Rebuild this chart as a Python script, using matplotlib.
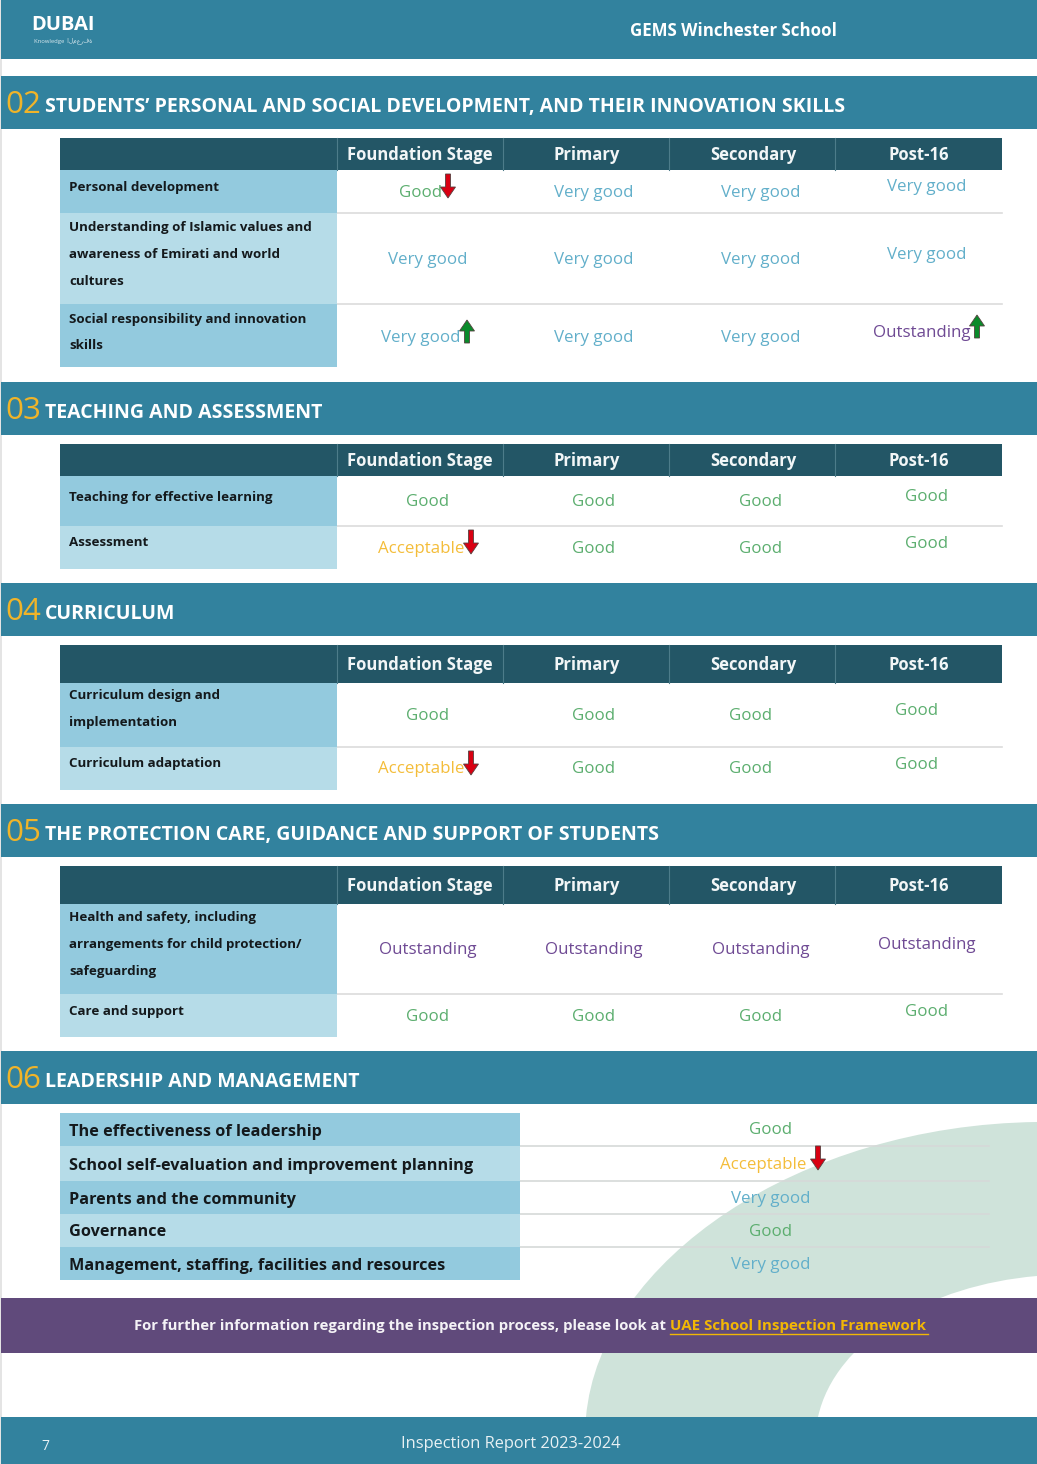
import matplotlib
matplotlib.use("Agg")
import matplotlib.pyplot as plt
import matplotlib.patches as mpatches
from matplotlib.path import Path

plt.rcParams["font.family"] = ["Open Sans", "DejaVu Sans"]

# ── Data ─────────────────────────────────────────────────────────────────────
SCHOOL = "GEMS Winchester School"
PHASES = ["Foundation Stage", "Primary", "Secondary", "Post-16"]

NUMS = ["02", "03", "04", "05"]
TITLES = [
    "STUDENTS\u2019 PERSONAL AND SOCIAL DEVELOPMENT, AND THEIR INNOVATION SKILLS",
    "TEACHING AND ASSESSMENT",
    "CURRICULUM",
    "THE PROTECTION CARE, GUIDANCE AND SUPPORT OF STUDENTS",
]

LABELS_02 = ["Personal development",
             "Understanding of Islamic values and\nawareness of Emirati and world\ncultures",
             "Social responsibility and innovation\nskills"]
RATINGS_02 = [["Good", "Very good", "Very good", "Very good"],
              ["Very good", "Very good", "Very good", "Very good"],
              ["Very good", "Very good", "Very good", "Outstanding"]]
TREND_02 = [["down", "", "", ""], ["", "", "", ""], ["up", "", "", "up"]]

LABELS_03 = ["Teaching for effective learning", "Assessment"]
RATINGS_03 = [["Good", "Good", "Good", "Good"],
              ["Acceptable", "Good", "Good", "Good"]]
TREND_03 = [["", "", "", ""], ["down", "", "", ""]]

LABELS_04 = ["Curriculum design and\nimplementation", "Curriculum adaptation"]
RATINGS_04 = [["Good", "Good", "Good", "Good"],
              ["Acceptable", "Good", "Good", "Good"]]
TREND_04 = [["", "", "", ""], ["down", "", "", ""]]

LABELS_05 = ["Health and safety, including\narrangements for child protection/\nsafeguarding",
             "Care and support"]
RATINGS_05 = [["Outstanding", "Outstanding", "Outstanding", "Outstanding"],
              ["Good", "Good", "Good", "Good"]]
TREND_05 = [["", "", "", ""], ["", "", "", ""]]

TITLE_06 = "LEADERSHIP AND MANAGEMENT"
LABELS_06 = ["The effectiveness of leadership",
             "School self-evaluation and improvement planning",
             "Parents and the community",
             "Governance",
             "Management, staffing, facilities and resources"]
RATINGS_06 = ["Good", "Acceptable", "Very good", "Good", "Very good"]
TREND_06 = ["", "down", "", "", ""]

# ── Colors ───────────────────────────────────────────────────────────────────
TEAL = "#32829e"
DARK = "#235666"
ROW_A = "#93cade"
ROW_B = "#b6dce8"
GOLD = "#f0b429"
RATING_COLORS = {"Good": "#5cae6f", "Very good": "#62afca",
                 "Acceptable": "#f4bd3a", "Outstanding": "#6f4a94"}

# ── Layout (pixels) ──────────────────────────────────────────────────────────
COL_EDGES = [337, 503, 669, 835, 1002]
COL_TEXT_X = [428, 594, 761, 927]
LAYOUT = [
    dict(band=76, head=(138, 170), rows=[170, 213, 304, 367],
         text_y=[[192, 192, 192, 186], [259, 259, 259, 254], [337, 337, 337, 332]],
         label_y=[186, 227, 318], arrows={(0, 0): (448, 174, 198), (2, 0): (467, 320, 343), (2, 3): (977, 315, 338)}),
    dict(band=382, head=(444, 476), rows=[476, 526, 569],
         text_y=[[501, 501, 501, 496], [548, 548, 548, 543]],
         label_y=[496, 542], arrows={(1, 0): (471, 530, 554)}),
    dict(band=583, head=(645, 683), rows=[683, 747, 790],
         text_y=[[715, 715, 715, 710], [768, 768, 768, 764]],
         label_y=[695, 763], arrows={(1, 0): (471, 751, 775)}, shift=[0, 0, -10, -10]),
    dict(band=804, head=(866, 904), rows=[904, 994, 1037],
         text_y=[[949, 949, 949, 944], [1016, 1016, 1016, 1011]],
         label_y=[917, 1010], arrows={}),
]
BOTTOM_ROWS = [1113, 1146, 1181, 1214, 1247, 1280]
BOTTOM_TEXT_Y = [1129, 1164, 1198, 1231, 1264]

fig = plt.figure(figsize=(10.37, 14.64), dpi=100)
ax = fig.add_axes([0, 0, 1, 1])
ax.set_xlim(0, 1037)
ax.set_ylim(1464, 0)
ax.axis("off")


def rect(x0, y0, x1, y1, color, z=2):
    ax.add_patch(mpatches.Rectangle((x0, y0), x1 - x0, y1 - y0, color=color, lw=0, zorder=z))


def arrow(x, y0, y1, direction):
    color = "#d90012" if direction == "down" else "#0a8a2a"
    if direction == "down":
        start, dy = y0, y1 - y0
    else:
        start, dy = y1, y0 - y1
    ax.add_patch(mpatches.FancyArrow(x, start, 0, dy, width=5, head_width=15, head_length=11,
                                     length_includes_head=True, color=color, ec="#55403f",
                                     lw=0.6, zorder=6))


def draw_band(y, num, title):
    rect(1, y, 1037, y + 52.5, TEAL)
    ax.text(5, y + 29, num, color=GOLD, fontsize=22.5, va="center", ha="left", zorder=5)
    ax.text(45, y + 31, title, color="white", fontsize=14.05, fontweight="bold", va="center", ha="left", zorder=5)


def draw_section(num, title, labels, ratings, trends, lay):
    draw_band(lay["band"], num, title)
    top, bot = lay["head"]
    rect(60, top, 1002, bot, DARK)
    for x in COL_EDGES[:-1]:
        ax.plot([x, x], [top, bot], color="#4d7c8a", lw=0.8, zorder=3)
    centers = [420, 587, 753, 919]
    for x, name in zip(centers, PHASES):
        ax.text(x, (top + bot) / 2 + 1, name, color="#f2f6f7", fontsize=12, fontweight="bold",
                ha="center", va="center", zorder=5)
    shift = lay.get("shift", [0, 0, 0, 0])
    rows = lay["rows"]
    for i, label in enumerate(labels):
        rect(60, rows[i], 337, rows[i + 1], ROW_A if i % 2 == 0 else ROW_B)
        if i < len(labels) - 1:
            ax.plot([337, 1002], [rows[i + 1], rows[i + 1]], color="#dcdcdc", lw=1.2, zorder=1)
        for n, line in enumerate(label.split("\n")):
            ax.text(69, lay["label_y"][i] + 1 + n * 26.6, line, color="#14191c", fontsize=9.6,
                    fontweight="bold", ha="left", va="center", zorder=5)
        for j, val in enumerate(ratings[i]):
            x = COL_TEXT_X[j] + shift[j]
            if trends[i][j]:
                x -= 7 if j == 0 else 5
                ax_arrow = lay["arrows"][(i, j)]
                arrow(ax_arrow[0], ax_arrow[1], ax_arrow[2], trends[i][j])
            ax.text(x, lay["text_y"][i][j] + 1, val, color=RATING_COLORS[val], fontsize=12.2,
                    ha="center", va="center", zorder=5)


# page furniture
rect(0, 0, 1037, 1464, "white", z=0)
rect(0, 0, 1.5, 1464, "#e4e4e4", z=0.5)

# green arc behind the bottom of the page
arc = Path([(586, 1417), (600, 1260), (800, 1125), (1037, 1122),
            (1037, 1276),
            (930, 1285), (835, 1340), (818, 1417), (586, 1417)],
           [Path.MOVETO, Path.CURVE4, Path.CURVE4, Path.CURVE4,
            Path.LINETO,
            Path.CURVE4, Path.CURVE4, Path.CURVE4, Path.CLOSEPOLY])
ax.add_patch(mpatches.PathPatch(arc, color="#cfe3da", lw=0, zorder=0.8))

# top banner
rect(1, 0, 1037, 59, TEAL)
ax.text(63, 25, "DUBAI", color="white", fontsize=14.5, fontweight="bold", ha="center", va="center", zorder=5)
ax.text(63, 41, "Knowledge  \u0627\u0644\u0645\u0639\u0631\u0641\u0629", color="#d8e8ee", fontsize=4.2,
        ha="center", va="center", zorder=5)
ax.text(733, 31, SCHOOL, color="white", fontsize=12.2, fontweight="bold", ha="center", va="center", zorder=5)

draw_section(NUMS[0], TITLES[0], LABELS_02, RATINGS_02, TREND_02, LAYOUT[0])
draw_section(NUMS[1], TITLES[1], LABELS_03, RATINGS_03, TREND_03, LAYOUT[1])
draw_section(NUMS[2], TITLES[2], LABELS_04, RATINGS_04, TREND_04, LAYOUT[2])
draw_section(NUMS[3], TITLES[3], LABELS_05, RATINGS_05, TREND_05, LAYOUT[3])

# section 06 has a single overall column
draw_band(1051, "06", TITLE_06)
for i, label in enumerate(LABELS_06):
    y0, y1 = BOTTOM_ROWS[i], BOTTOM_ROWS[i + 1]
    rect(60, y0, 520, y1, ROW_A if i % 2 == 0 else ROW_B)
    if i < len(LABELS_06) - 1:
        ax.plot([520, 989], [y1, y1], color="#d6d9d8", lw=1.2, zorder=1)
    ax.text(69, (y0 + y1) / 2 + 2, label, color="#14191c", fontsize=11.7, fontweight="bold",
            ha="left", va="center", zorder=5)
    x = 771
    if TREND_06[i]:
        x = 763
        arrow(818, 1146, 1170, TREND_06[i])
    ax.text(x, BOTTOM_TEXT_Y[i] + 1, RATINGS_06[i], color=RATING_COLORS[RATINGS_06[i]], fontsize=12.2,
            ha="center", va="center", zorder=5)

# purple strip
rect(1, 1298, 1037, 1353, "#604a7b")
ax.text(134, 1326, "For further information regarding the inspection process, please look at",
        color="#f4f2f6", fontsize=10.72, fontweight="bold", ha="left", va="center", zorder=5)
ax.text(670, 1326, "UAE School Inspection Framework", color="#f2b705", fontsize=10.9,
        fontweight="bold", ha="left", va="center", zorder=5)
ax.plot([670, 928], [1334, 1334], color="#f2b705", lw=1, zorder=5)

# footer
rect(1, 1417, 1037, 1464, TEAL)
ax.text(45, 1447, "7", color="#e8f1f4", fontsize=10, ha="center", va="center", zorder=5)
ax.text(511, 1444, "Inspection Report 2023-2024", color="#e8f1f4", fontsize=11.8, ha="center", va="center", zorder=5)

fig.savefig("out.png", dpi=100)
